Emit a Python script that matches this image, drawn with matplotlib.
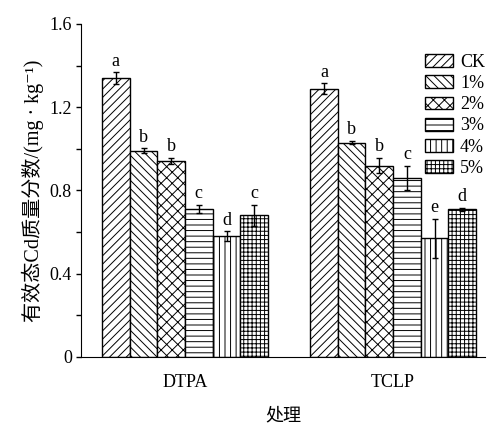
import numpy as np
import matplotlib
matplotlib.use('Agg')
import matplotlib.pyplot as plt
from matplotlib.ticker import MultipleLocator

plt.rcParams['font.family'] = ['Liberation Serif', 'Noto Sans CJK SC', 'DejaVu Sans']
plt.rcParams['hatch.linewidth'] = 0.7

methods = ['DTPA', 'TCLP']
treatments = ['CK', '1%', '2%', '3%', '4%', '5%']
# 有效态Cd质量分数, 每行一个处理, 列为 DTPA / TCLP
values = [
    [1.34, 1.29],
    [0.99, 1.03],
    [0.94, 0.92],
    [0.71, 0.86],
    [0.58, 0.57],
    [0.68, 0.71],
]
errors = [
    [0.027, 0.025],
    [0.012, 0.008],
    [0.015, 0.037],
    [0.020, 0.060],
    [0.024, 0.095],
    [0.050, 0.007],
]
letters = [
    ['a', 'a'],
    ['b', 'b'],
    ['b', 'b'],
    ['c', 'c'],
    ['d', 'e'],
    ['c', 'd'],
]
hatches = ['////', '\\\\\\\\', 'xxx', '---', '|||', '++++']

fig = plt.figure(figsize=(4.89, 4.26), dpi=100)
ax = fig.add_axes([0.1656, 0.162, 0.8264, 0.7817])

x = np.arange(len(methods))
width = 0.133
for i, name in enumerate(treatments):
    pos = x + (i - 2.5) * width
    ax.bar(pos, values[i], width, color='white', edgecolor='black',
           linewidth=1.0, hatch=hatches[i], label=name, zorder=2)
    ax.errorbar(pos, values[i], yerr=errors[i], fmt='none', ecolor='black',
                elinewidth=1.0, capsize=2.2, capthick=1.0, zorder=3)
    for j in range(len(methods)):
        ax.annotate(letters[i][j], (pos[j], values[i][j] + errors[i][j]),
                    xytext=(0, 2), textcoords='offset points',
                    ha='center', va='bottom', fontsize=13)

ax.set_xlim(-0.5, 1.442)
ax.set_ylim(0, 1.6)
ax.yaxis.set_minor_locator(MultipleLocator(0.2))
ax.set_yticks([0, 0.4, 0.8, 1.2, 1.6])
ax.set_yticklabels(['0', '0.4', '0.8', '1.2', '1.6'])
ax.set_xticks(x)
ax.set_xticklabels(methods)
ax.tick_params(axis='x', length=0, pad=12, labelsize=13)
ax.tick_params(axis='y', which='both', direction='out', length=3.5,
               width=1.0, labelsize=13, pad=3)
ax.spines['top'].set_visible(False)
ax.spines['right'].set_visible(False)

ax.set_ylabel('有效态Cd质量分数/(mg · kg⁻¹)', fontsize=14.5, labelpad=4)
ax.set_xlabel('处理', fontsize=13, labelpad=12)

ax.legend(loc='upper left', bbox_to_anchor=(0.851, 0.91), frameon=False,
          fontsize=13, handlelength=1.55, handleheight=0.72,
          handletextpad=0.4, labelspacing=0.23, borderpad=0, borderaxespad=0)

fig.savefig('out.png', dpi=100)
